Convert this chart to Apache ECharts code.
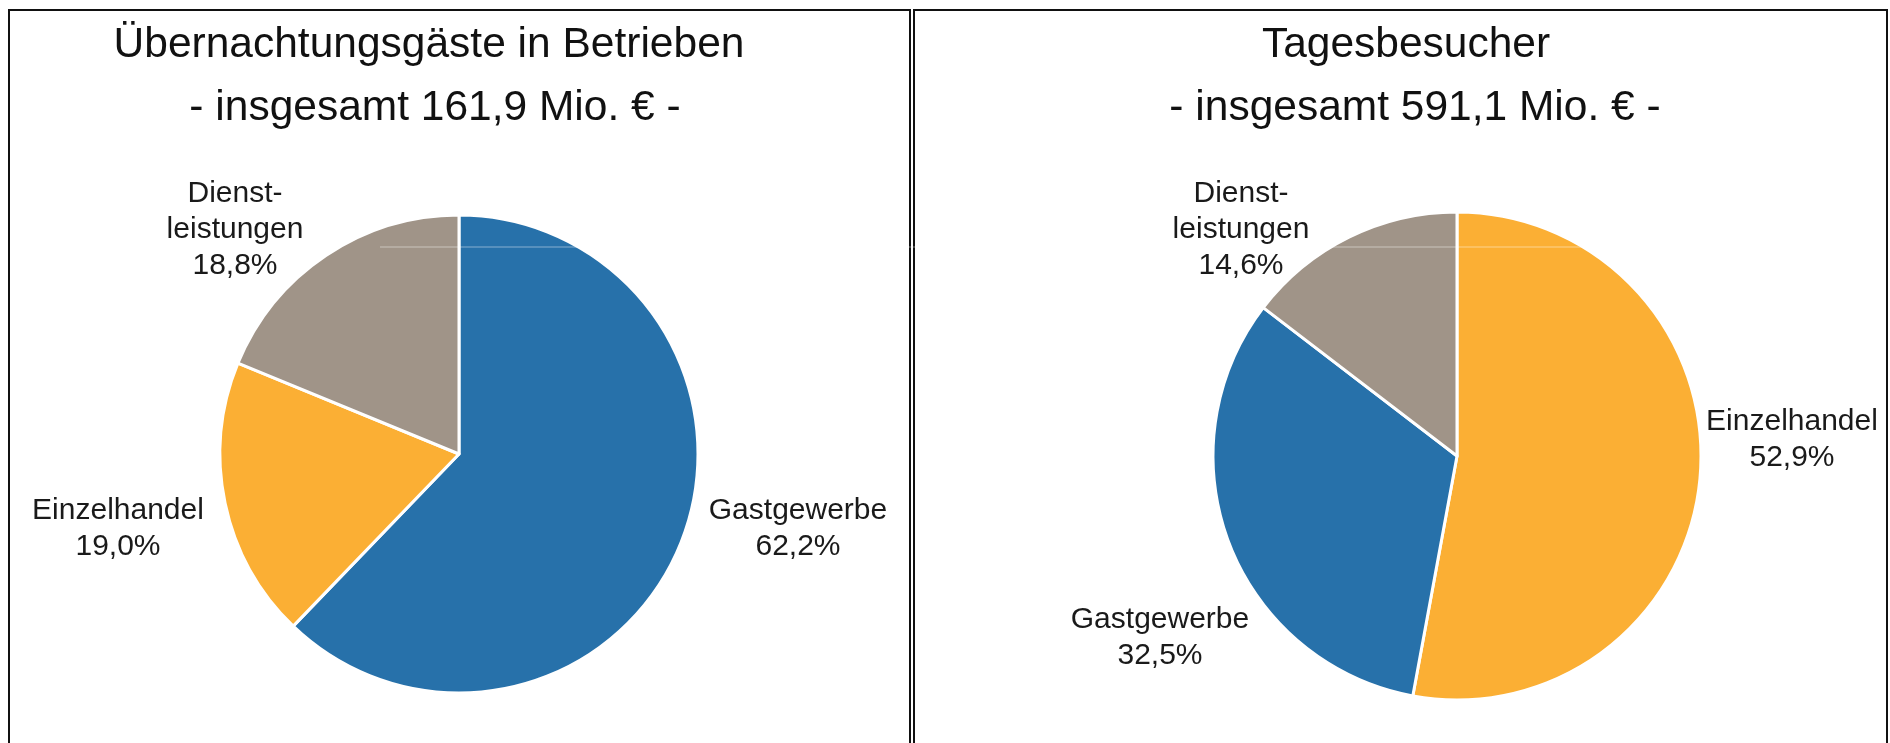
<!DOCTYPE html>
<html>
<head>
<meta charset="utf-8">
<script src="https://cdn.jsdelivr.net/npm/echarts@6/dist/echarts.min.js"></script>
<style>
html,body{margin:0;padding:0;background:#fff;}
#chart{width:1890px;height:743px;}
</style>
</head>
<body>
<div id="chart"></div>
<script>
// ---- data ----
const leftTitle = ['Übernachtungsgäste in Betrieben', '- insgesamt 161,9 Mio. € -'];
const rightTitle = ['Tagesbesucher', '- insgesamt 591,1 Mio. € -'];
const leftCategories = ['Gastgewerbe', 'Einzelhandel', 'Dienst-\nleistungen'];
const leftValues = [62.2, 19.0, 18.8];
const rightCategories = ['Einzelhandel', 'Gastgewerbe', 'Dienst-\nleistungen'];
const rightValues = [52.9, 32.5, 14.6];

// ---- styles ----
const colorMap = {
  'Gastgewerbe': '#2771aa',
  'Einzelhandel': '#fbaf34',
  'Dienst-\nleistungen': '#a09488'
};
const FONT = '"Liberation Sans", Arial, sans-serif';
// label anchor positions (layout only)
const leftLabelPos = [[798, 529], [118, 529], [235, 230]];
const rightLabelPos = [[1792, 440], [1160, 638], [1241, 230]];

function fmt(v) { return v.toFixed(1).replace('.', ',') + '%'; }

function buildData(cats, vals) {
  return cats.map((c, i) => ({ name: c, value: vals[i], itemStyle: { color: colorMap[c] } }));
}

function pieSeries(cats, vals, center, radius, labelPos) {
  return {
    type: 'pie',
    center: center,
    radius: radius,
    startAngle: 90,
    clockwise: true,
    animation: false,
    silent: true,
    data: buildData(cats, vals),
    itemStyle: { borderColor: '#ffffff', borderWidth: 3 },
    label: {
      show: true,
      position: 'outside',
      formatter: p => p.name + '\n' + fmt(p.value),
      fontFamily: FONT,
      fontSize: 30,
      lineHeight: 36,
      color: '#1a1a1a',
      align: 'center',
      overflow: 'none'
    },
    labelLine: { show: false },
    labelLayout: function (params) {
      const pos = labelPos[params.dataIndex];
      return { x: pos[0], y: pos[1], align: 'center', verticalAlign: 'middle', hideOverlap: false, moveOverlap: null };
    }
  };
}

const chart = echarts.init(document.getElementById('chart'), null, { renderer: 'canvas' });

const titleStyle = { fontFamily: FONT, fontSize: 42.5, fontWeight: 'normal', color: '#111111' };

chart.setOption({
  backgroundColor: '#ffffff',
  animation: false,
  title: [
    { text: leftTitle[0], left: 424, top: 19, textAlign: 'center', textStyle: titleStyle },
    { text: leftTitle[1], left: 430, top: 82, textAlign: 'center', textStyle: titleStyle },
    { text: rightTitle[0], left: 1401, top: 19, textAlign: 'center', textStyle: titleStyle },
    { text: rightTitle[1], left: 1410, top: 82, textAlign: 'center', textStyle: titleStyle }
  ],
  graphic: [
    { type: 'polyline', shape: { points: [[9, 760], [9, 10], [910, 10], [910, 760]] }, style: { stroke: '#111', lineWidth: 2, fill: null }, z: 10 },
    { type: 'polyline', shape: { points: [[914, 760], [914, 10], [1887, 10], [1887, 760]] }, style: { stroke: '#111', lineWidth: 2, fill: null }, z: 10 },
    { type: 'line', shape: { x1: 380, y1: 247, x2: 1700, y2: 247 }, style: { stroke: 'rgba(255,255,255,0.45)', lineWidth: 1 }, z: 20 }
  ],
  series: [
    pieSeries(leftCategories, leftValues, [459, 454], 239, leftLabelPos),
    pieSeries(rightCategories, rightValues, [1457, 456], 244, rightLabelPos)
  ]
});
</script>
</body>
</html>
